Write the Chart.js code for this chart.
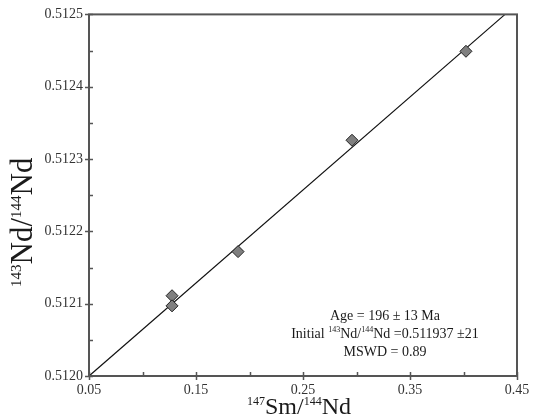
<!DOCTYPE html>
<html>
<head>
<meta charset="utf-8">
<script src="https://cdn.jsdelivr.net/npm/chart.js@4.4.0/dist/chart.umd.min.js"></script>
<style>
    html, body { margin: 0; padding: 0; background: #fff; }
    #wrap { width: 536px; height: 419px; }
</style>
</head>
<body>
<div id="wrap"><canvas id="isochron" width="536" height="419"></canvas></div>
<script>
// sample points
const smNd = [0.1276, 0.1276, 0.1893, 0.2958, 0.4023];
const ndNd = [0.512111, 0.512097, 0.512172, 0.512326, 0.512449];

// isochron line end points
const lineX = [0.05, 0.4388];
const lineY = [0.51200, 0.51250];

// axis ticks
const xMajor = [0.05, 0.15, 0.25, 0.35, 0.45];
const xMinor = [0.10, 0.20, 0.30, 0.40];
const yMajor = [0.5120, 0.5121, 0.5122, 0.5123, 0.5124, 0.5125];
const yMinor = [0.51205, 0.51215, 0.51225, 0.51235, 0.51245];

const serif = '"Liberation Serif", "Times New Roman", serif';
const axisColor = '#555';

// draw a row of text pieces, some of them superscript, centred on x
function drawSupText(ctx, parts, x, y, size, supSize, rise) {
    let total = 0;
    parts.forEach(p => {
        ctx.font = (p.sup ? supSize : size) + 'px ' + serif;
        p.w = ctx.measureText(p.t).width;
        total += p.w;
    });
    let cx = x - total / 2;
    ctx.textAlign = 'left';
    ctx.textBaseline = 'alphabetic';
    parts.forEach(p => {
        ctx.font = (p.sup ? supSize : size) + 'px ' + serif;
        ctx.fillText(p.t, cx, p.sup ? y - rise : y);
        cx += p.w;
    });
}

const framePlugin = {
    id: 'framePlugin',
    afterDraw(chart) {
        const ctx = chart.ctx;
        const a = chart.chartArea;
        const xs = chart.scales.x;
        const ys = chart.scales.y;
        ctx.save();

        // frame
        ctx.strokeStyle = axisColor;
        ctx.lineWidth = 2;
        ctx.strokeRect(a.left, a.top, a.right - a.left, a.bottom - a.top);

        // tick marks: majors cross the axis, minors point inward
        ctx.lineWidth = 1.5;
        ctx.beginPath();
        xMajor.forEach(v => {
            const px = Math.round(xs.getPixelForValue(v)) + 0.5;
            ctx.moveTo(px, a.bottom - 4);
            ctx.lineTo(px, a.bottom + 4);
        });
        xMinor.forEach(v => {
            const px = Math.round(xs.getPixelForValue(v)) + 0.5;
            ctx.moveTo(px, a.bottom - 4);
            ctx.lineTo(px, a.bottom);
        });
        yMajor.forEach(v => {
            const py = Math.round(ys.getPixelForValue(v)) + 0.5;
            ctx.moveTo(a.left - 4, py);
            ctx.lineTo(a.left + 4, py);
        });
        yMinor.forEach(v => {
            const py = Math.round(ys.getPixelForValue(v)) + 0.5;
            ctx.moveTo(a.left, py);
            ctx.lineTo(a.left + 4, py);
        });
        ctx.stroke();

        ctx.fillStyle = '#1a1a1a';

        // x axis title
        drawSupText(ctx, [
            { t: '147', sup: true }, { t: 'Sm/' },
            { t: '144', sup: true }, { t: 'Nd' }
        ], (a.left + a.right) / 2 - 4, 414, 24, 12, 9);

        // y axis title, rotated
        ctx.save();
        ctx.translate(32, (a.top + a.bottom) / 2 + 27);
        ctx.rotate(-Math.PI / 2);
        drawSupText(ctx, [
            { t: '143', sup: true }, { t: 'Nd/' },
            { t: '144', sup: true }, { t: 'Nd' }
        ], 0, 0, 31, 15, 11);
        ctx.restore();

        // isochron results
        const cx = a.right - 132;
        drawSupText(ctx, [{ t: 'Age = 196 \u00b1 13 Ma' }], cx, a.bottom - 56, 14, 8, 6);
        drawSupText(ctx, [
            { t: 'Initial ' }, { t: '143', sup: true }, { t: 'Nd/' },
            { t: '144', sup: true }, { t: 'Nd =0.511937 \u00b121' }
        ], cx, a.bottom - 38, 14, 8, 6);
        drawSupText(ctx, [{ t: 'MSWD = 0.89' }], cx, a.bottom - 20, 14, 8, 6);

        ctx.restore();
    }
};

const ctx = document.getElementById('isochron').getContext('2d');
new Chart(ctx, {
    type: 'scatter',
    data: {
        datasets: [
            {
                label: 'Isochron',
                data: lineX.map((x, i) => ({ x: x, y: lineY[i] })),
                showLine: true,
                borderColor: '#111',
                borderWidth: 1.2,
                pointRadius: 0,
                order: 2
            },
            {
                label: 'Samples',
                data: smNd.map((x, i) => ({ x: x, y: ndNd[i] })),
                pointStyle: 'rectRot',
                pointRadius: 6,
                backgroundColor: '#7f7f7f',
                borderColor: '#222',
                borderWidth: 1,
                order: 1
            }
        ]
    },
    options: {
        responsive: false,
        animation: false,
        clip: false,
        layout: { padding: { top: 12, right: 19, left: 0, bottom: 0 } },
        plugins: {
            legend: { display: false },
            tooltip: { enabled: false }
        },
        scales: {
            x: {
                type: 'linear',
                min: 0.05,
                max: 0.45,
                afterBuildTicks: scale => { scale.ticks = xMajor.map(v => ({ value: v })); },
                afterFit: scale => { scale.height = 43; },
                grid: { display: false, drawTicks: false },
                border: { display: false },
                ticks: {
                    padding: 6,
                    color: '#333',
                    font: { family: serif, size: 14 },
                    maxRotation: 0,
                    callback: v => v.toFixed(2)
                }
            },
            y: {
                type: 'linear',
                min: 0.5120,
                max: 0.5125,
                afterBuildTicks: scale => { scale.ticks = yMajor.map(v => ({ value: v })); },
                afterFit: scale => { scale.width = 89; },
                grid: { display: false, drawTicks: false },
                border: { display: false },
                ticks: {
                    padding: 6,
                    color: '#333',
                    font: { family: serif, size: 14 },
                    callback: v => v.toFixed(4)
                }
            }
        }
    },
    plugins: [framePlugin]
});
</script>
</body>
</html>
